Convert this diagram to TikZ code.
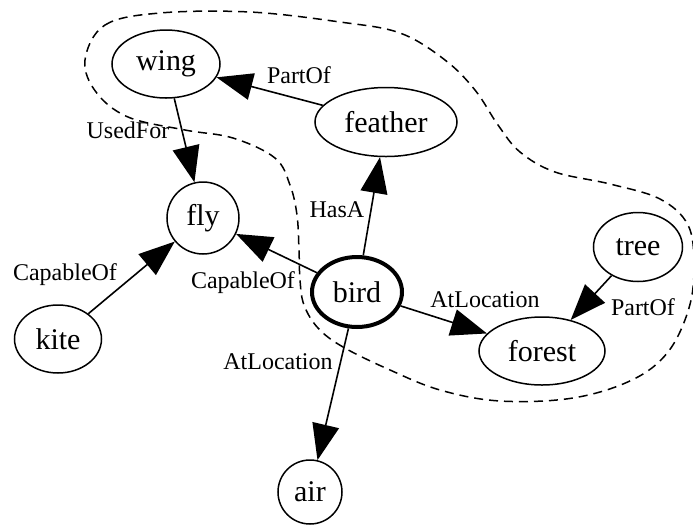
\documentclass[tikz,border=0pt]{standalone}
\usepackage{fontspec}
\setmainfont{Liberation Serif}
\usetikzlibrary{shapes.geometric, arrows.meta, positioning}

\tikzset{
  concept/.style={ellipse, draw, line width=0.75pt, inner sep=0pt, font=\fontsize{15}{18}\selectfont},
  rel/.style={line width=0.8pt, -{Triangle[length=18pt, width=13.5pt]}},
  rellabel/.style={font=\fontsize{12}{14}\selectfont, inner sep=1pt},
  region/.style={line width=0.75pt, dash pattern=on 4.5pt off 3pt}
}

\begin{document}
\begin{tikzpicture}[x=0.5pt, y=-0.5pt]
    \useasboundingbox (0,0) rectangle (693,527);

    % Region around bird
    \draw[region] plot[smooth cycle, tension=0.6] coordinates {
        (85,60) (105,25) (160,13) (250,12) (340,22) (400,33) (445,60)
        (475,90) (498,125) (520,152) (555,172) (610,184) (660,199)
        (688,225) (694,265) (689,308) (668,352) (632,380) (573,398)
        (500,401) (440,390) (390,370) (343,347) (318,328) (304,305)
        (300,280) (299,250) (297,215) (290,185) (275,158) (233,138)
        (185,130) (128,117) (96,92)};

    % Concepts
    \node[concept, minimum width=54pt, minimum height=34pt] (wing) at (166,64) {wing};
    \node[concept, minimum width=71pt, minimum height=34.5pt] (feather) at (386,122) {feather};
    \node[concept, circle, minimum size=36pt] (fly) at (203,218) {fly};
    \node[concept, line width=2pt, minimum width=45pt, minimum height=35pt] (bird) at (357,292) {bird};
    \node[concept, minimum width=44.5pt, minimum height=34.5pt] (tree) at (638,247) {tree};
    \node[concept, minimum width=63pt, minimum height=34pt] (forest) at (542,351) {forest};
    \node[concept, minimum width=43.5pt, minimum height=34pt] (kite) at (58,339) {kite};
    \node[concept, circle, minimum size=32pt] (air) at (310,492) {air};

    % Relations
    \draw[rel] (feather) -- (wing);
    \draw[rel] (wing) -- (fly);
    \draw[rel] (bird) -- (feather);
    \draw[rel] (bird) -- (fly);
    \draw[rel] (kite) -- (fly);
    \draw[rel] (bird) -- (forest);
    \draw[rel] (tree) -- (forest);
    \draw[rel] (bird) -- (air);

    % Relation labels
    \node[rellabel] (lPartOfWing) at (299,75) {PartOf};
    \node[rellabel] (lUsedFor) at (128,130) {UsedFor};
    \node[rellabel] (lHasA) at (337,210) {HasA};
    \node[rellabel] (lCapableBird) at (243,283) {CapableOf};
    \node[rellabel] (lCapableKite) at (65,275) {CapableOf};
    \node[rellabel] (lAtForest) at (485,300) {AtLocation};
    \node[rellabel] (lPartOfForest) at (643,307) {PartOf};
    \node[rellabel] (lAtAir) at (278,362) {AtLocation};
\end{tikzpicture}
\end{document}
